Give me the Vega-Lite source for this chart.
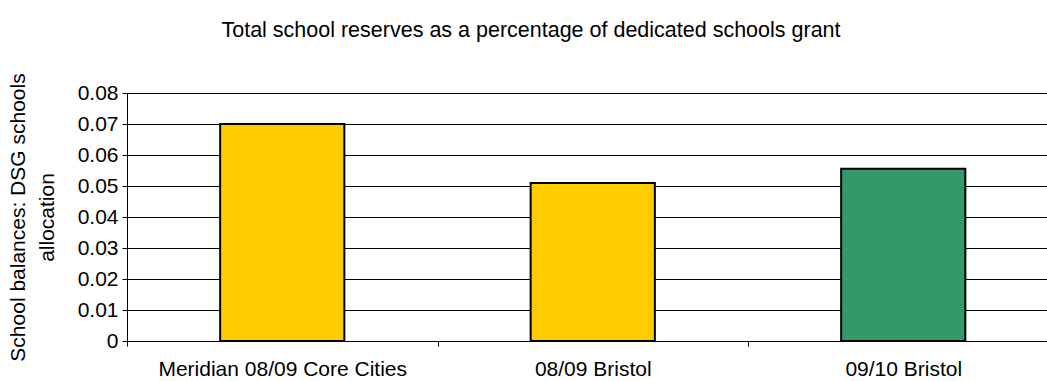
{
  "$schema": "https://vega.github.io/schema/vega-lite/v6.json",
  "autosize": "none",
  "width": 920,
  "height": 248,
  "padding": {"left": 127, "top": 93, "right": 0, "bottom": 40},
  "background": "white",
  "config": {
    "font": "Liberation Sans",
    "view": {"stroke": null}
  },
  "title": {
    "text": "Total school reserves as a percentage of dedicated schools grant",
    "font": "Liberation Sans",
    "fontSize": 21.5,
    "fontWeight": "normal",
    "color": "#000000",
    "anchor": "middle",
    "dx": -56,
    "offset": 31
  },
  "data": {
    "values": [
      {"category": "Meridian 08/09 Core Cities", "year": "08/09", "value": 0.070},
      {"category": "08/09 Bristol", "year": "08/09", "value": 0.051},
      {"category": "09/10 Bristol", "year": "09/10", "value": 0.0556}
    ]
  },
  "mark": {"type": "bar", "stroke": "#000000", "strokeWidth": 2, "width": {"band": 0.4}},
  "encoding": {
    "x": {
      "field": "category",
      "type": "nominal",
      "sort": null,
      "scale": {"paddingInner": 0, "paddingOuter": 0, "range": [0, 931.5]},
      "axis": {
        "title": null,
        "labelAngle": 0,
        "labelFontSize": 21,
        "labelLimit": 0,
        "labelColor": "#000000",
        "labelFont": "Liberation Sans",
        "tickBand": "extent",
        "tickColor": "#000000",
        "tickSize": 5,
        "domainColor": "#000000",
        "domainWidth": 1,
        "labelPadding": 12,
        "grid": false
      }
    },
    "y": {
      "field": "value",
      "type": "quantitative",
      "scale": {"domain": [0, 0.08], "nice": false, "zero": true},
      "axis": {
        "title": ["School balances: DSG schools", "allocation"],
        "titleFontSize": 21,
        "titleFontWeight": "normal",
        "titleColor": "#000000",
        "titleFont": "Liberation Sans",
        "titleLineHeight": 29,
        "titlePadding": 20,
        "values": [0, 0.01, 0.02, 0.03, 0.04, 0.05, 0.06, 0.07, 0.08],
        "format": ".2~f",
        "labelFontSize": 21,
        "labelColor": "#000000",
        "labelFont": "Liberation Sans",
        "labelPadding": 4,
        "tickColor": "#000000",
        "tickSize": 5,
        "domainColor": "#000000",
        "grid": true,
        "gridColor": "#000000",
        "gridWidth": 1
      }
    },
    "fill": {
      "field": "year",
      "type": "nominal",
      "scale": {"domain": ["08/09", "09/10"], "range": ["#FFCC00", "#339966"]},
      "legend": null
    }
  }
}
